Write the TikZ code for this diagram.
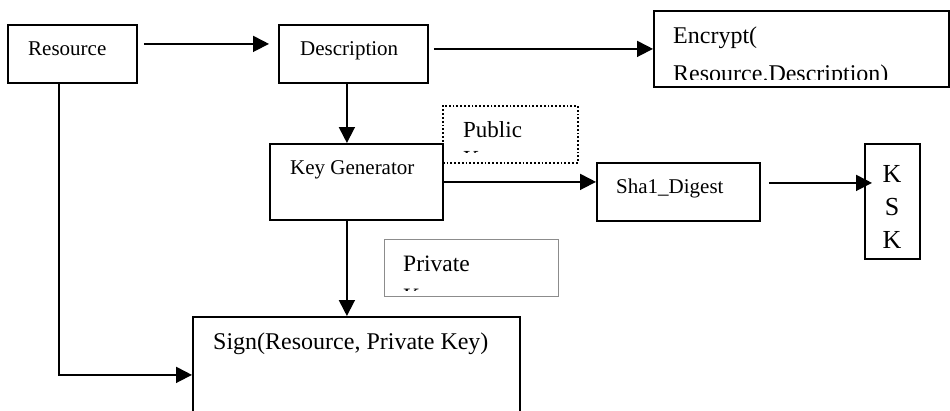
\documentclass[tikz,border=0pt]{standalone}
\usepackage{fontspec}
\setmainfont{Liberation Serif}
\usetikzlibrary{arrows.meta}
\begin{document}
\begin{tikzpicture}[x=1pt,y=-1pt,
  box/.style={draw, line width=1.8pt, anchor=north west, inner sep=0pt},
  arr/.style={line width=1.8pt, -{Triangle[length=16pt,width=16pt]}},
  txt/.style={anchor=base west, inner sep=0pt, font=\fontsize{21}{25}\selectfont},
  bigtxt/.style={anchor=base west, inner sep=0pt, font=\fontsize{24}{28}\selectfont},
  ksktxt/.style={anchor=base, inner sep=0pt, font=\fontsize{26}{30}\selectfont}]
\clip (0,0) rectangle (950,410);
\fill[white] (0,0) rectangle (950,410);
% boxes
\node[box, minimum width=129pt, minimum height=58pt] (res) at (7,24) {};
\node[box, minimum width=149pt, minimum height=58pt] (desc) at (278,24) {};
\node[box, minimum width=295pt, minimum height=76pt] (enc) at (653,10) {};
\node[box, minimum width=173pt, minimum height=76pt] (kg) at (269,143) {};
\node[box, dotted, line width=1.5pt, minimum width=135pt, minimum height=57pt] (pub) at (442,105) {};
\node[box, minimum width=163pt, minimum height=58pt] (sha) at (596,162) {};
\node[box, minimum width=55pt, minimum height=115pt] (ksk) at (864,143) {};
\node[box, draw=black!45, line width=1pt, minimum width=174pt, minimum height=57pt] (priv) at (384,239) {};
\node[box, minimum width=327pt, minimum height=120pt] (sign) at (192,316) {};
% texts
\node[txt] (rest) at (28,55) {Resource};
\node[txt] (desct) at (300,55) {Description};
\begin{scope}
\clip (653,10) rectangle (948,79);
\node[bigtxt] (enct1) at (673,43) {Encrypt(};
\node[bigtxt] (enct2) at (673,81) {Resource.Description)};
\end{scope}
\node[txt] (kgt) at (290,174) {Key Generator};
\begin{scope}
\clip (442,105) rectangle (577,152);
\node[bigtxt, font=\fontsize{23}{27}\selectfont] (pubt1) at (463,137) {Public};
\node[bigtxt, font=\fontsize{23}{27}\selectfont] (pubt2) at (463,166) {Key};
\end{scope}
\node[txt] (shat) at (616,193) {Sha1\_Digest};
\node[ksktxt] (k1) at (892,182) {K};
\node[ksktxt] (k2) at (892,215) {S};
\node[ksktxt] (k3) at (892,248) {K};
\begin{scope}
\clip (384,239) rectangle (558,290);
\node[bigtxt, font=\fontsize{23.5}{27}\selectfont] (privt1) at (403,271) {Private};
\node[bigtxt, font=\fontsize{23.5}{27}\selectfont] (privt2) at (403,304) {Key};
\end{scope}
\node[bigtxt] (signt) at (213,349) {Sign(Resource, Private Key)};
% connectors
\draw[arr] ([shift={(6,-10)}]res.east) -- ([shift={(-9,-10)}]desc.west);
\draw[arr] ([shift={(5,-5)}]desc.east) -- (enc.west);
\draw[arr] ([shift={(-6.5,0)}]desc.south) -- ([shift={(-6.5,0)}]desc.south |- kg.north);
\draw[arr] (kg.east) -- (kg.east -| sha.west);
\draw[arr] ([shift={(8,-9)}]sha.east) -- ([shift={(8,-9)}]sha.east -| ksk.west);
\draw[arr] ([shift={(-9.5,0)}]kg.south) -- ([shift={(-9.5,0)}]kg.south |- sign.north);
\draw[arr] ([shift={(-13.5,0)}]res.south) |- ([shift={(0,-2)}]sign.west);
\end{tikzpicture}
\end{document}
